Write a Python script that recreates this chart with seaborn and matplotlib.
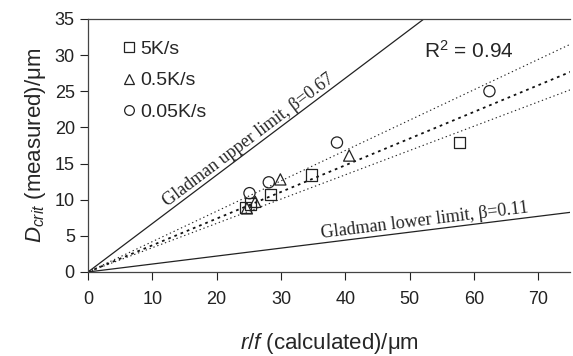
import numpy as np
import pandas as pd
import seaborn as sns
import matplotlib.pyplot as plt
from matplotlib.lines import Line2D

# data
sq_x = [24.5, 25.2, 28.4, 34.8, 57.7]
sq_y = [8.9, 9.4, 10.7, 13.4, 17.9]
tri_x = [24.7, 26.0, 29.9, 40.6]
tri_y = [8.8, 9.7, 12.8, 16.1]
cir_x = [25.1, 28.1, 38.7, 62.4]
cir_y = [10.9, 12.4, 17.9, 25.0]
rates = ['5K/s', '0.5K/s', '0.05K/s']

upper_beta = 0.67
lower_beta = 0.11
fit_slopes = [0.42, 0.369, 0.336]
r2 = 0.94

df = pd.DataFrame({
    'x': sq_x + tri_x + cir_x,
    'y': sq_y + tri_y + cir_y,
    'rate': [rates[0]] * len(sq_x) + [rates[1]] * len(tri_x) + [rates[2]] * len(cir_x),
})

sns.set_style('ticks')
plt.rcParams['font.family'] = ['Liberation Sans', 'DejaVu Sans']
plt.rcParams['mathtext.fontset'] = 'custom'
plt.rcParams['mathtext.it'] = 'Liberation Sans:italic'
plt.rcParams['mathtext.rm'] = 'Liberation Sans'

fig = plt.figure(figsize=(5.73, 3.56), dpi=100)
ax = fig.add_axes([0.1536, 0.236, 0.842, 0.711])

xx = np.linspace(0, 80, 200)
ax.plot(xx, upper_beta * xx, color='#222222', lw=0.9)
ax.plot(xx, lower_beta * xx, color='#222222', lw=0.9)
ax.plot(xx, fit_slopes[0] * xx, color='#222222', lw=0.8, ls=(0, (1.2, 2.5)))
ax.plot(xx, fit_slopes[1] * xx, color='#111111', lw=1.3, ls=(0, (1.5, 2.2)))
ax.plot(xx, fit_slopes[2] * xx, color='#222222', lw=0.8, ls=(0, (1.2, 2.5)))

sns.scatterplot(data=df, x='x', y='y', style='rate', ax=ax,
                markers={rates[0]: 's', rates[1]: '^', rates[2]: 'o'},
                s=65, facecolor='none', edgecolor='#222222', linewidth=0.9,
                legend=False, zorder=3)

ax.set_xlim(0, 75)
ax.set_ylim(0, 35)
ax.set_xticks(range(0, 71, 10))
ax.set_yticks(range(0, 36, 5))
ax.tick_params(direction='out', length=6, width=0.8, labelsize=13, colors='#222222')
ax.tick_params(axis='x', pad=8)
for s in ['left', 'bottom', 'top']:
    ax.spines[s].set_color('#444444')
    ax.spines[s].set_linewidth(0.9)
ax.spines['right'].set_visible(False)

ax.set_xlabel(r'$\it{r/f}$ (calculated)/μm', fontsize=16, labelpad=16)
ax.set_ylabel(r'$D_{crit}$ (measured)/μm', fontsize=16, labelpad=5)

# legend
handles = [Line2D([], [], marker=m, ls='none', mfc='none', mec='#222222', ms=7, mew=0.9)
           for m in ['s', '^', 'o']]
ax.legend(handles, rates, loc='upper left', bbox_to_anchor=(0.03, 0.985), frameon=False,
          fontsize=14, handletextpad=0.15, handlelength=0.9, labelspacing=0.72)

ax.text(52.2, 30.6, r'R$^2$ = %.2f' % r2, fontsize=15, va='center', ha='left')

fig.canvas.draw()
ang_u = ax.transData.transform_angles([np.degrees(np.arctan(upper_beta))], np.array([[20, 13]]))[0]
ang_l = ax.transData.transform_angles([np.degrees(np.arctan(lower_beta))], np.array([[50, 5]]))[0]
ax.text(25.8, upper_beta * 25.8, 'Gladman upper limit, β=0.67', family='Liberation Serif',
        fontsize=13, rotation=ang_u, rotation_mode='anchor', ha='center', va='bottom')
ax.text(52.5, lower_beta * 52.5 + 0.15, 'Gladman lower limit, β=0.11', family='Liberation Serif',
        fontsize=13, rotation=ang_l, rotation_mode='anchor', ha='center', va='bottom')

fig.savefig('out.png', dpi=100)
